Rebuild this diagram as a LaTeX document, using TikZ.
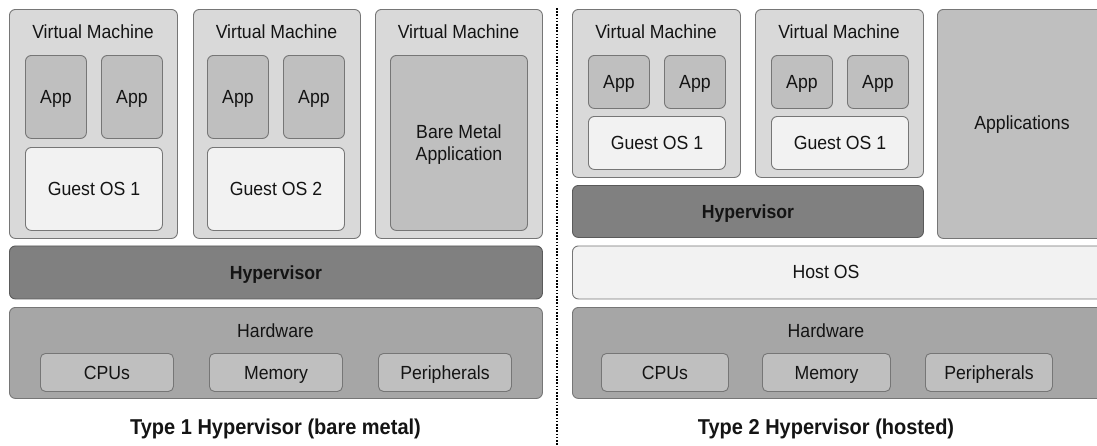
\documentclass[tikz,border=0pt]{standalone}
\usepackage{fontspec}
\setmainfont[FakeStretch=0.93]{Liberation Sans}
\definecolor{bordc}{HTML}{767676}
\definecolor{vmfill}{HTML}{D9D9D9}
\definecolor{appfill}{HTML}{BFBFBF}
\definecolor{osfill}{HTML}{F2F2F2}
\definecolor{hypfill}{HTML}{808080}
\definecolor{hwfill}{HTML}{A6A6A6}
\definecolor{txt}{HTML}{141414}
\begin{document}
\begin{tikzpicture}[x=1pt,y=-1pt,
  box/.style={draw=bordc,line width=0.9pt,rounded corners=6pt,inner sep=0pt,
    anchor=north west,text=txt,font=\fontsize{19}{22}\selectfont,align=center},
  sl/.style={text height=15pt,text depth=1.5pt},
  vmbox/.style={box,fill=vmfill},
  appbox/.style={box,fill=appfill},
  osbox/.style={box,fill=osfill},
  hypbox/.style={box,sl,fill=hypfill,draw=hypfill!70!black,font=\fontsize{19}{22}\selectfont\bfseries},
  hwbox/.style={box,fill=hwfill},
  lbl/.style={text=txt,font=\fontsize{19}{22}\selectfont,inner sep=0pt,sl},
  ttl/.style={text=txt,font=\fontsize{21.5}{25}\selectfont\bfseries,inner sep=0pt,text height=16pt,text depth=0.6pt}]
\clip (0,0) rectangle (1097,445);
\fill[white] (0,0) rectangle (1097,445);
% ---------- Type 1 ----------
\node[vmbox,minimum width=168pt,minimum height=229pt] (vm1) at (9,9) {};
\node[lbl] (vm1t) at (93,32) {Virtual Machine};
\node[appbox,sl,minimum width=61pt,minimum height=83pt] (a11) at (25,55) {App};
\node[appbox,sl,minimum width=61pt,minimum height=83pt] (a12) at (101,55) {App};
\node[osbox,sl,minimum width=137pt,minimum height=83pt] (g1) at (25,147) {Guest OS 1};

\node[vmbox,minimum width=167pt,minimum height=229pt] (vm2) at (193,9) {};
\node[lbl] (vm2t) at (276.5,32) {Virtual Machine};
\node[appbox,sl,minimum width=61pt,minimum height=83pt] (a21) at (207,55) {App};
\node[appbox,sl,minimum width=61pt,minimum height=83pt] (a22) at (283,55) {App};
\node[osbox,sl,minimum width=137pt,minimum height=83pt] (g2) at (207,147) {Guest OS 2};

\node[vmbox,minimum width=167pt,minimum height=229pt] (vm3) at (375,9) {};
\node[lbl] (vm3t) at (458.5,32) {Virtual Machine};
\node[appbox,minimum width=137pt,minimum height=175pt,text depth=-2.5pt] (bm) at (390,55) {Bare Metal\\Application};

\node[hypbox,minimum width=533pt,minimum height=53pt] (hyp1) at (9,245.5) {Hypervisor};
\node[hwbox,minimum width=533pt,minimum height=91pt] (hw1) at (9,307) {};
\node[lbl] (hw1t) at (275.5,331) {Hardware};
\node[appbox,sl,minimum width=133pt,minimum height=38pt,rounded corners=5pt] (cpu1) at (40,353) {CPUs};
\node[appbox,sl,minimum width=133pt,minimum height=38pt,rounded corners=5pt] (mem1) at (209,353) {Memory};
\node[appbox,sl,minimum width=133pt,minimum height=38pt,rounded corners=5pt] (per1) at (378,353) {Peripherals};
\node[ttl] (t1) at (275.5,427) {Type 1 Hypervisor (bare metal)};

% divider
\coordinate (d1) at (557,8);
\coordinate (d2) at (557,445);
\draw[line width=1.6pt,dash pattern=on 1.6pt off 1.6pt,black] (d1) -- (d2);

% ---------- Type 2 ----------
\node[vmbox,minimum width=168pt,minimum height=168pt] (vm4) at (572,9) {};
\node[lbl] (vm4t) at (656,32) {Virtual Machine};
\node[appbox,sl,minimum width=61pt,minimum height=53pt] (a41) at (588,55) {App};
\node[appbox,sl,minimum width=61pt,minimum height=53pt] (a42) at (664,55) {App};
\node[osbox,sl,minimum width=137pt,minimum height=53pt] (g4) at (588,116) {Guest OS 1};

\node[vmbox,minimum width=168pt,minimum height=168pt] (vm5) at (755,9) {};
\node[lbl] (vm5t) at (839,32) {Virtual Machine};
\node[appbox,sl,minimum width=61pt,minimum height=53pt] (a51) at (771,55) {App};
\node[appbox,sl,minimum width=61pt,minimum height=53pt] (a52) at (847,55) {App};
\node[osbox,sl,minimum width=137pt,minimum height=53pt] (g5) at (771,116) {Guest OS 1};

\node[hypbox,minimum width=351pt,minimum height=52pt] (hyp2) at (572,185) {Hypervisor};
\node[appbox,minimum width=200pt,minimum height=229pt] (apps) at (937,9) {};
\node[lbl] (appst) at (1022,123) {Applications};

\node[osbox,minimum width=560pt,minimum height=53pt] (host) at (572,245.5) {};
\node[lbl] (hostt) at (826,272) {Host OS};
\node[hwbox,minimum width=560pt,minimum height=91pt] (hw2) at (572,307) {};
\node[lbl] (hw2t) at (826,331) {Hardware};
\node[appbox,sl,minimum width=127pt,minimum height=38pt,rounded corners=5pt] (cpu2) at (601,353) {CPUs};
\node[appbox,sl,minimum width=128pt,minimum height=38pt,rounded corners=5pt] (mem2) at (762,353) {Memory};
\node[appbox,sl,minimum width=127pt,minimum height=38pt,rounded corners=5pt] (per2) at (925,353) {Peripherals};
\node[ttl] (t2) at (826,427) {Type 2 Hypervisor (hosted)};
\end{tikzpicture}
\end{document}
